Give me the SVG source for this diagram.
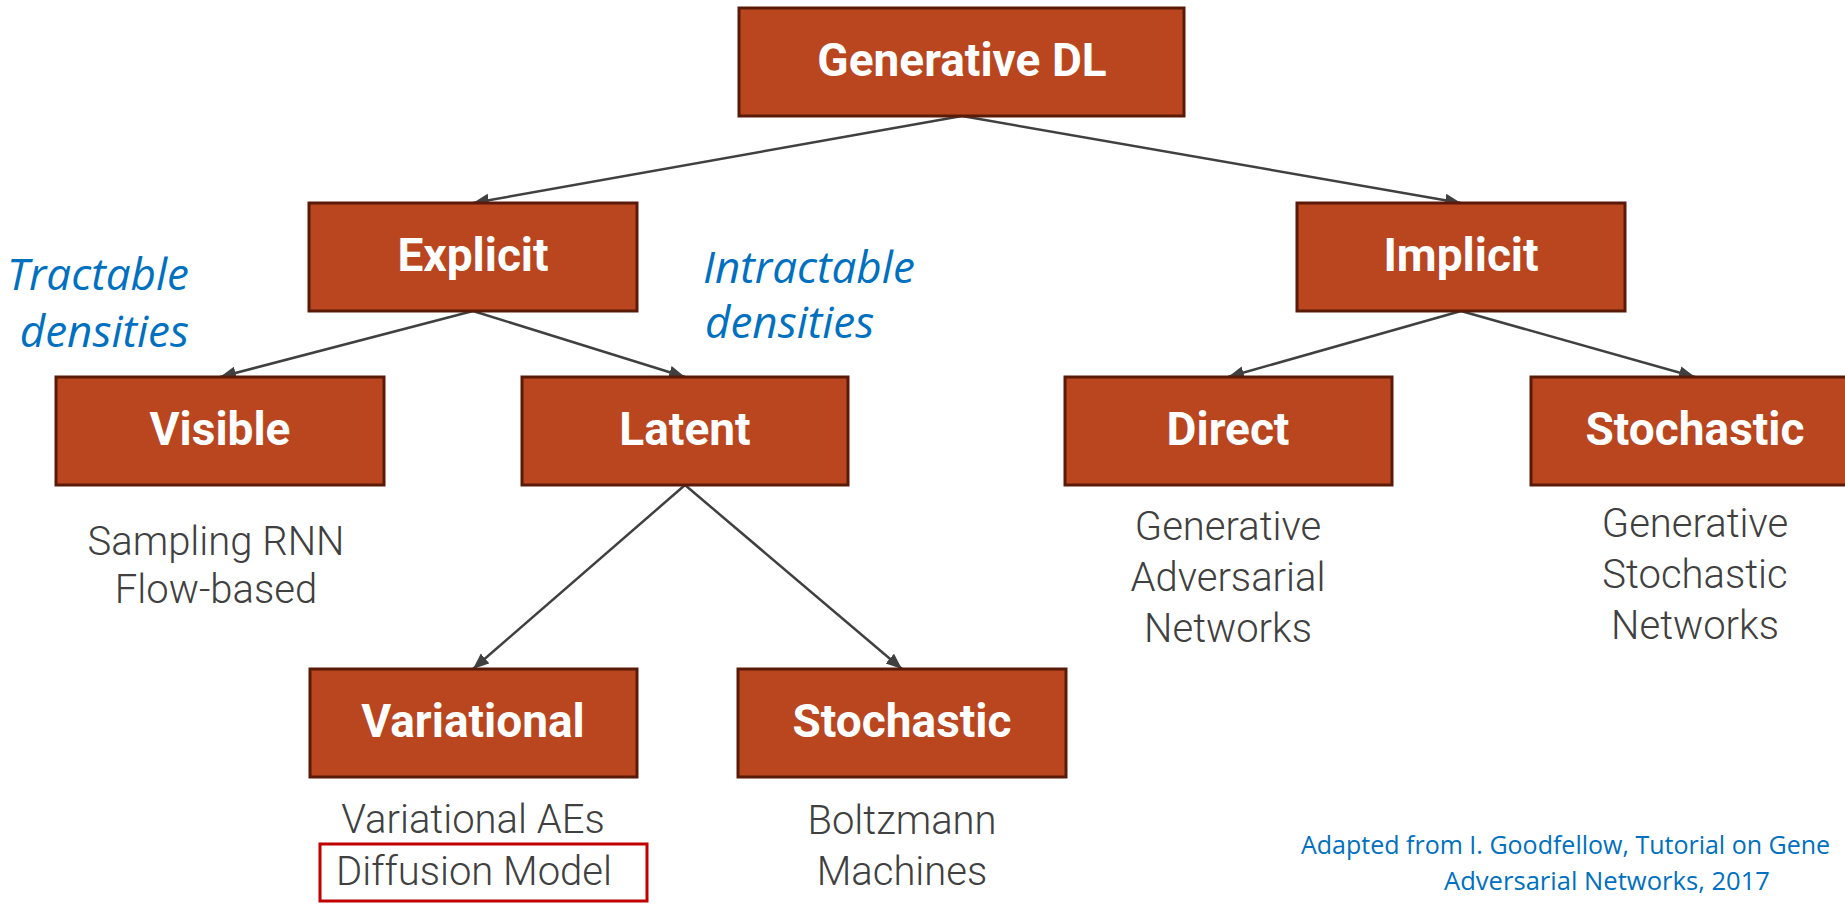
<svg xmlns="http://www.w3.org/2000/svg" width="1845" height="904" viewBox="0 0 1845 904">
<style>
.box{fill:#B9461F;stroke:#5A1A08;stroke-width:3}
.nt{font-family:Roboto,"Open Sans",sans-serif;font-weight:700;font-size:46px;fill:#FFFFFF;text-anchor:middle}
.lb{font-family:Roboto,"Open Sans",sans-serif;font-weight:300;font-size:40px;fill:#404040;text-anchor:middle}
.it{font-family:"Open Sans","Liberation Sans",sans-serif;font-style:italic;font-size:44px;fill:#0070C0}
.fn{font-family:"Open Sans","Liberation Sans",sans-serif;font-size:25px;fill:#0070C0}
.cn{stroke:#404040;stroke-width:2.5;fill:none;marker-end:url(#ah)}
</style>
<defs>
<marker id="ah" markerUnits="userSpaceOnUse" markerWidth="18" markerHeight="14" refX="16" refY="6.5" orient="auto">
<path d="M0,0 L16,6.5 L0,13 z" fill="#404040"/>
</marker>
</defs>
<rect width="1845" height="904" fill="#FFFFFF"/>
<g id="connectors">
<line class="cn" x1="962" y1="116" x2="473" y2="203"/>
<line class="cn" x1="962" y1="116" x2="1461" y2="203"/>
<line class="cn" x1="473" y1="311" x2="220" y2="377"/>
<line class="cn" x1="473" y1="311" x2="685" y2="377"/>
<line class="cn" x1="1461" y1="311" x2="1228" y2="377"/>
<line class="cn" x1="1461" y1="311" x2="1695" y2="377"/>
<line class="cn" x1="685" y1="485" x2="473" y2="669"/>
<line class="cn" x1="685" y1="485" x2="902" y2="669"/>
</g>
<g id="node-root">
<rect class="box" x="739" y="8" width="445" height="108"/>
<text class="nt" x="962" y="76">Generative DL</text>
</g>
<g id="node-explicit">
<rect class="box" x="309" y="203" width="328" height="108"/>
<text class="nt" x="473" y="271">Explicit</text>
</g>
<g id="node-implicit">
<rect class="box" x="1297" y="203" width="328" height="108"/>
<text class="nt" x="1461" y="271">Implicit</text>
</g>
<g id="node-visible">
<rect class="box" x="56" y="377" width="328" height="108"/>
<text class="nt" x="220" y="445">Visible</text>
</g>
<g id="node-latent">
<rect class="box" x="522" y="377" width="326" height="108"/>
<text class="nt" x="685" y="445">Latent</text>
</g>
<g id="node-direct">
<rect class="box" x="1065" y="377" width="327" height="108"/>
<text class="nt" x="1228" y="445">Direct</text>
</g>
<g id="node-stochastic-implicit">
<rect class="box" x="1531" y="377" width="330" height="108"/>
<text class="nt" x="1695" y="445">Stochastic</text>
</g>
<g id="node-variational">
<rect class="box" x="310" y="669" width="327" height="108"/>
<text class="nt" x="473" y="737">Variational</text>
</g>
<g id="node-stochastic-latent">
<rect class="box" x="738" y="669" width="328" height="108"/>
<text class="nt" x="902" y="737">Stochastic</text>
</g>
<g id="labels">
<text class="it" x="189" y="290" text-anchor="end">Tractable</text>
<text class="it" x="189" y="347" text-anchor="end">densities</text>
<text class="it" x="703" y="283">Intractable</text>
<text class="it" x="705" y="338">densities</text>
<text class="lb" x="216" y="555">Sampling RNN</text>
<text class="lb" x="216" y="603">Flow-based</text>
<text class="lb" x="1228" y="540">Generative</text>
<text class="lb" x="1228" y="591">Adversarial</text>
<text class="lb" x="1228" y="642">Networks</text>
<text class="lb" x="1695" y="537">Generative</text>
<text class="lb" x="1695" y="588">Stochastic</text>
<text class="lb" x="1695" y="639">Networks</text>
<text class="lb" x="473" y="833">Variational AEs</text>
<text class="lb" x="474" y="885">Diffusion Model</text>
<rect x="320" y="844" width="327" height="57" fill="none" stroke="#C00000" stroke-width="3"/>
<text class="lb" x="902" y="834">Boltzmann</text>
<text class="lb" x="902" y="885">Machines</text>
<text class="fn" x="1301" y="854">Adapted from I. Goodfellow, Tutorial on Gene</text>
<text class="fn" x="1444" y="890" textLength="326" lengthAdjust="spacingAndGlyphs">Adversarial Networks, 2017</text>
</g>
</svg>
